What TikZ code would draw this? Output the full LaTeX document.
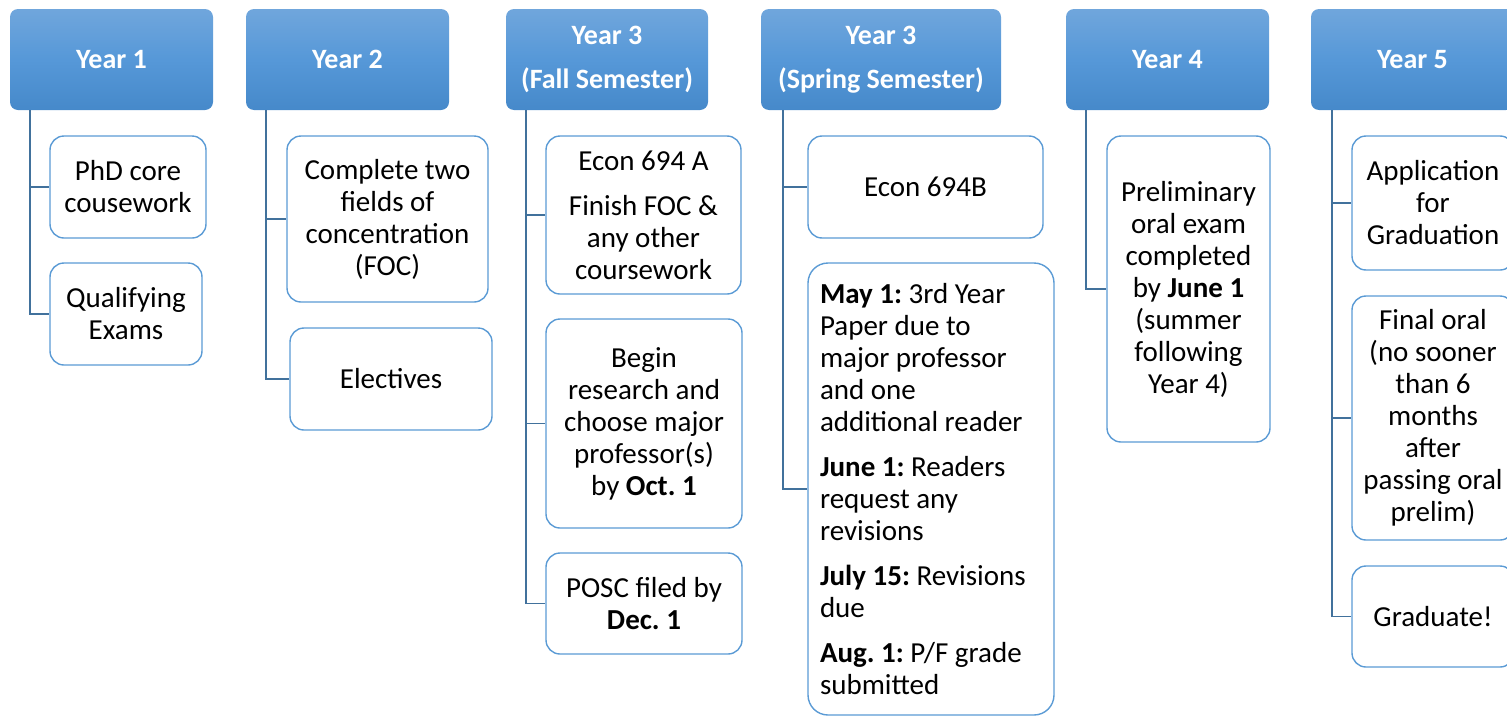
\documentclass[tikz,border=0pt]{standalone}
\usepackage{fontspec}
\setmainfont{Carlito}
\usepackage{xcolor}
\frenchspacing

\definecolor{hdrtop}{RGB}{112,166,220}
\definecolor{hdrmid}{RGB}{86,152,216}
\definecolor{hdrbot}{RGB}{70,137,202}
\definecolor{boxline}{RGB}{91,155,213}
\definecolor{linkline}{RGB}{65,113,156}

\tikzset{
  yearbox/.style={rounded corners=8pt, top color=hdrtop, bottom color=hdrbot, middle color=hdrmid,
    text=white, font=\fontsize{28}{32}\selectfont\bfseries, align=center, minimum height=101pt, inner sep=4pt},
  taskbox/.style={draw=boxline, line width=1.4pt, rounded corners=14pt, fill=white, align=center,
    font=\fontsize{29}{32}\selectfont, inner sep=6pt},
  link/.style={draw=linkline, line width=1.6pt},
}

\begin{document}
\begin{tikzpicture}[x=1pt,y=-1pt]
    \clip (0,0) rectangle (1507,715);
    % year headers
    \node[yearbox, minimum width=203pt] (yone) at (111.5,59.5) {Year 1};
    \node[yearbox, minimum width=203pt] (ytwo) at (347.5,59.5) {Year 2};
    \node[yearbox, minimum width=202pt] (yfall) at (607,59.5) {Year 3\\[12pt](Fall Semester)};
    \node[yearbox, minimum width=240pt] (yspring) at (881,59.5) {Year 3\\[12pt](Spring Semester)};
    \node[yearbox, minimum width=203pt] (yfour) at (1167.5,59.5) {Year 4};
    \node[yearbox, minimum width=203pt] (yfive) at (1412.5,59.5) {Year 5};
    % year 1
    \node[taskbox, minimum width=156pt, minimum height=102pt] (core) at (128,187) {PhD core\\cousework};
    \node[taskbox, minimum width=152pt, minimum height=102pt] (qual) at (126,314) {Qualifying\\Exams};
    % year 2
    \node[taskbox, minimum width=201pt, minimum height=166pt] (fields) at (387.5,219) {Complete two\\fields of\\concentration\\(FOC)};
    \node[taskbox, minimum width=202pt, minimum height=102pt] (elect) at (391,379) {Electives};
    % year 3, fall
    \node[taskbox, minimum width=195pt, minimum height=158pt] (econa) at (643.5,215) {Econ 694 A\\[13pt]Finish FOC \&\\any other\\coursework};
    \node[taskbox, minimum width=196pt, minimum height=209pt] (research) at (644,423.5) {Begin\\research and\\choose major\\professor(s)\\by \textbf{Oct. 1}};
    \node[taskbox, minimum width=196pt, minimum height=101pt] (posc) at (644,603.5) {POSC filed by\\\textbf{Dec. 1}};
    % year 3, spring
    \node[taskbox, minimum width=235pt, minimum height=102pt] (econb) at (925.5,187) {Econ 694B};
    \node[taskbox, rounded corners=20pt, align=flush left, text width=222pt, inner xsep=12pt,
          minimum width=246pt, minimum height=452pt] (paper) at (931,489)
      {\textbf{May 1:} 3rd Year\\Paper due to\\major professor\\and one\\additional reader\\[13pt]
       \textbf{June 1:} Readers\\request any\\revisions\\[13pt]
       \textbf{July 15:} Revisions\\due\\[13pt]
       \textbf{Aug. 1:} P/F grade\\submitted};
    % year 4
    \node[taskbox, minimum width=163pt, minimum height=306pt] (prelim) at (1188.5,289) {Preliminary\\oral exam\\completed\\by \textbf{June 1}\\(summer\\following\\Year 4)};
    % year 5
    \node[taskbox, minimum width=162pt, minimum height=134pt] (apply) at (1433,203) {Application\\for\\Graduation};
    \node[taskbox, minimum width=162pt, minimum height=244pt] (final) at (1433,418) {Final oral\\(no sooner\\than 6\\months\\after\\passing oral\\prelim)};
    \node[taskbox, minimum width=162pt, minimum height=101pt] (grad) at (1433,616.5) {Graduate!};
    % connectors
    \draw[link] ([xshift=20pt]yone.south west) |- (core.west);
    \draw[link] ([xshift=20pt]yone.south west) |- (qual.west);
    \draw[link] ([xshift=20pt]ytwo.south west) |- (fields.west);
    \draw[link] ([xshift=20pt]ytwo.south west) |- (elect.west);
    \draw[link] ([xshift=20pt]yfall.south west) |- (econa.west);
    \draw[link] ([xshift=20pt]yfall.south west) |- (research.west);
    \draw[link] ([xshift=20pt]yfall.south west) |- (posc.west);
    \draw[link] ([xshift=22pt]yspring.south west) |- (econb.west);
    \draw[link] ([xshift=22pt]yspring.south west) |- (paper.west);
    \draw[link] ([xshift=20pt]yfour.south west) |- (prelim.west);
    \draw[link] ([xshift=21pt]yfive.south west) |- (apply.west);
    \draw[link] ([xshift=21pt]yfive.south west) |- (final.west);
    \draw[link] ([xshift=21pt]yfive.south west) |- (grad.west);
\end{tikzpicture}
\end{document}
